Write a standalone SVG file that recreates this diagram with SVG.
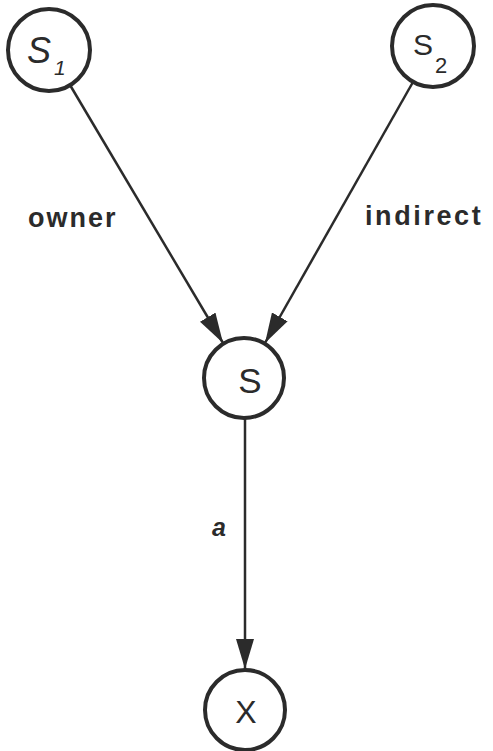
<svg xmlns="http://www.w3.org/2000/svg" width="493" height="751" viewBox="0 0 493 751">
<style>
.node circle{fill:#fff;stroke:#2b2b2b;stroke-width:4}
.lbl{font-family:"Liberation Sans",Arial,sans-serif;fill:#2b2b2b}
.edge{stroke:#2b2b2b;stroke-width:2.5;fill:none}
.el{font-family:"Liberation Sans",Arial,sans-serif;font-weight:bold;fill:#2b2b2b}
</style>
<defs>
<marker id="ah" viewBox="0 0 30 18" refX="30" refY="9" markerWidth="30" markerHeight="18" markerUnits="userSpaceOnUse" orient="auto">
<path d="M0,0 L30,9 L0,18 Z" fill="#2b2b2b"/>
</marker>
</defs>
<rect width="493" height="751" fill="#fff"/>
<g id="connectors">
<line class="edge" x1="70" y1="85" x2="223" y2="343" marker-end="url(#ah)"/>
<line class="edge" x1="413" y1="82" x2="265" y2="343" marker-end="url(#ah)"/>
<line class="edge" x1="245" y1="418" x2="245" y2="669" marker-end="url(#ah)"/>
<text class="el" x="28" y="227" font-size="27" letter-spacing="2">owner</text>
<text class="el" x="365" y="225" font-size="27" letter-spacing="2.6">indirect</text>
<text class="el" x="212" y="536" font-size="25" font-style="italic">a</text>
</g>
<g id="S1" class="node">
<circle cx="49" cy="50" r="41"/>
<text class="lbl" x="27" y="63" font-size="36" font-style="italic">S</text>
<text class="lbl" x="54" y="75" font-size="21" font-style="italic">1</text>
</g>
<g id="S2" class="node">
<circle cx="433" cy="46" r="41"/>
<text class="lbl" x="413" y="55" font-size="30">S</text>
<text class="lbl" x="435" y="73" font-size="22">2</text>
</g>
<g id="S" class="node">
<circle cx="244" cy="378" r="40"/>
<text class="lbl" x="250" y="393" font-size="35" text-anchor="middle">S</text>
</g>
<g id="X" class="node">
<circle cx="245" cy="710" r="40"/>
<text class="lbl" x="246" y="723" font-size="32" text-anchor="middle">X</text>
</g>
</svg>
